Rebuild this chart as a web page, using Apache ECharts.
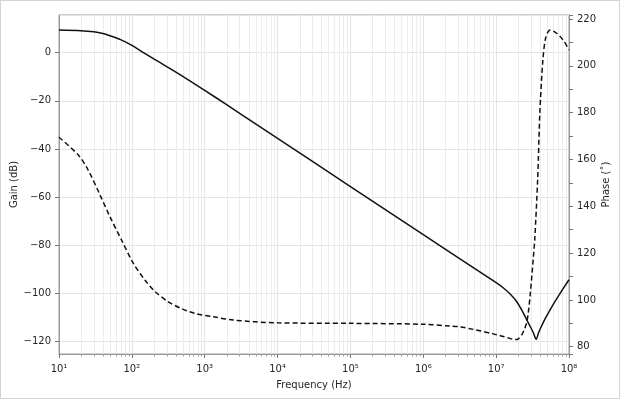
<!DOCTYPE html>
<html>
<head>
<meta charset="utf-8">
<title>Gain / Phase</title>
<script src="https://cdn.jsdelivr.net/npm/echarts@6/dist/echarts.min.js"></script>
<style>
  html, body { margin: 0; padding: 0; background: #fff; }
  #chart { width: 622px; height: 401px; }
  #frame { position: absolute; left: 0; top: 0; width: 618px; height: 397px; border: 1px solid #d4d4d4; pointer-events: none; }
</style>
</head>
<body>
<div id="chart"></div>
<div id="frame"></div>
<script>
// gain curve (dB)
const gainFreq = [10, 20, 30, 40, 50, 70, 100, 150, 200, 300, 500, 1000, 2000, 5000, 1e4, 1e5, 1e6, 3e6, 1e7, 1.26e7, 1.58e7, 1.9e7, 2.24e7, 2.63e7, 2.95e7, 3.24e7, 3.55e7, 3.8e7, 4.17e7, 4.79e7, 5.5e7, 6.46e7, 7.59e7, 8.7e7, 1e8]
const gainDb = [9.4, 9.1, 8.6, 7.9, 7.0, 5.4, 3.0, -0.3, -2.6, -5.8, -9.9, -15.7, -21.6, -29.6, -35.6, -55.6, -75.6, -85.1, -95.5, -97.7, -100.4, -103.2, -106.8, -110.9, -113.8, -116.3, -119, -116.5, -113.7, -110, -106.8, -103.2, -99.8, -97, -94.3]

// phase curve (deg), dashed
const phaseFreq = [10, 18.4, 25.1, 36.6, 50.1, 72.4, 105, 151, 209, 316, 479, 741, 1318, 2455, 1e4, 1e5, 1e6, 2.34e6, 3.16e6, 4.9e6, 9.12e6, 1.12e7, 1.45e7, 1.82e7, 2.0e7, 2.24e7, 2.45e7, 2.63e7, 2.75e7, 2.95e7, 3.24e7, 3.39e7, 3.72e7, 3.98e7, 4.37e7, 4.79e7, 5.5e7, 6.76e7, 8.32e7, 1e8]
const phaseDeg = [169.5, 161.9, 155.5, 144.8, 135.5, 125.5, 115.6, 108.5, 103.5, 99.2, 96.3, 94.2, 92.8, 91.4, 90.2, 90.0, 89.6, 88.8, 88.5, 87.4, 85.5, 84.8, 83.8, 83.1, 83.3, 85.0, 87.5, 90.5, 94, 103, 118, 126, 152, 180, 202, 212, 215.3, 213.9, 211.0, 206.8]

const gainRange = [-125.1, 15.6]
const phaseRange = [76.9, 221.7]
const sup = ['⁰', '¹', '²', '³', '⁴', '⁵', '⁶', '⁷', '⁸', '⁹']

// minor decade positions for the log axis (2..9 x 10^k)
const minorFreqs = []
for (let k = 1; k < 8; k++) {
  for (let d = 2; d <= 9; d++) minorFreqs.push([d * Math.pow(10, k), 0])
}

const font = 'DejaVu Sans'
const txt = '#262626'
const minus = v => String(v).replace('-', '\u2212')

const chart = echarts.init(document.getElementById('chart'))
chart.setOption({
  animation: false,
  grid: {
    left: 59,
    right: 53,
    top: 15,
    bottom: 47,
    outerBoundsMode: 'none',
    containLabel: false,
    show: true,
    borderColor: '#9a9a9a',
    borderWidth: 1
  },
  xAxis: {
    type: 'log',
    logBase: 10,
    min: 10,
    max: 1e8,
    splitNumber: 7,
    name: 'Frequency (Hz)',
    nameLocation: 'middle',
    nameGap: 26,
    nameMoveOverlap: false,
    nameTextStyle: { fontFamily: font, fontSize: 10, color: txt },
    axisLine: { onZero: false, lineStyle: { color: '#9a9a9a' } },
    axisTick: { inside: false, length: 4, lineStyle: { color: '#777' } },
    axisLabel: {
      fontFamily: font,
      fontSize: 10,
      color: txt,
      margin: 10,
      formatter: v => '10' + sup[Math.round(Math.log10(v))]
    },
    splitLine: { show: true, lineStyle: { color: '#e4e4e4', width: 1 } }
  },
  yAxis: [
    {
      type: 'value',
      min: gainRange[0],
      max: gainRange[1],
      splitNumber: 7,
      name: 'Gain (dB)',
      nameLocation: 'middle',
      nameRotate: 90,
      nameGap: 40,
      nameMoveOverlap: false,
      nameTextStyle: { fontFamily: font, fontSize: 10, color: txt },
      axisLine: { show: true, lineStyle: { color: '#9a9a9a' } },
      axisTick: { show: true, length: 4, lineStyle: { color: '#777' } },
      axisLabel: {
        fontFamily: font,
        fontSize: 10,
        color: txt,
        margin: 8,
        showMinLabel: false,
        showMaxLabel: false,
        formatter: minus
      },
      splitLine: { show: true, lineStyle: { color: '#e4e4e4', width: 1 } }
    },
    {
      type: 'value',
      position: 'right',
      min: phaseRange[0],
      max: phaseRange[1],
      splitNumber: 7,
      name: 'Phase (˚)',
      nameLocation: 'middle',
      nameRotate: 90,
      nameGap: 32,
      nameMoveOverlap: false,
      nameTextStyle: { fontFamily: font, fontSize: 10, color: txt },
      axisLine: { show: true, lineStyle: { color: '#9a9a9a' } },
      axisTick: { show: true, length: 4, lineStyle: { color: '#777' } },
      minorTick: { show: true, splitNumber: 2, length: 4, lineStyle: { color: '#777' } },
      axisLabel: {
        fontFamily: font,
        fontSize: 10,
        color: txt,
        margin: 8,
        showMinLabel: false,
        showMaxLabel: false
      },
      splitLine: { show: false }
    }
  ],
  series: [
    {
      type: 'custom',
      silent: true,
      clip: false,
      z: 1,
      xAxisIndex: 0,
      yAxisIndex: 0,
      encode: { x: 0, y: 1 },
      data: minorFreqs,
      renderItem (params, api) {
        const cs = params.coordSys
        const x = Math.round(api.coord([api.value(0), 0])[0]) + 0.5
        const yb = cs.y + cs.height
        return {
          type: 'group',
          children: [
            { type: 'line', shape: { x1: x, y1: cs.y, x2: x, y2: yb }, style: { stroke: '#ececec', lineWidth: 1 } },
            { type: 'line', shape: { x1: x, y1: yb, x2: x, y2: yb + 2.5 }, style: { stroke: '#888', lineWidth: 0.8 } }
          ]
        }
      }
    },
    {
      name: 'Gain',
      type: 'line',
      yAxisIndex: 0,
      z: 3,
      symbol: 'none',
      smooth: 0.3,
      data: gainFreq.map((f, i) => [f, gainDb[i]]),
      lineStyle: { color: '#111', width: 1.5 }
    },
    {
      name: 'Phase',
      type: 'line',
      yAxisIndex: 1,
      z: 3,
      symbol: 'none',
      smooth: 0.3,
      data: phaseFreq.map((f, i) => [f, phaseDeg[i]]),
      lineStyle: { color: '#111', width: 1.5, type: [5, 3] }
    }
  ]
})
</script>
</body>
</html>
